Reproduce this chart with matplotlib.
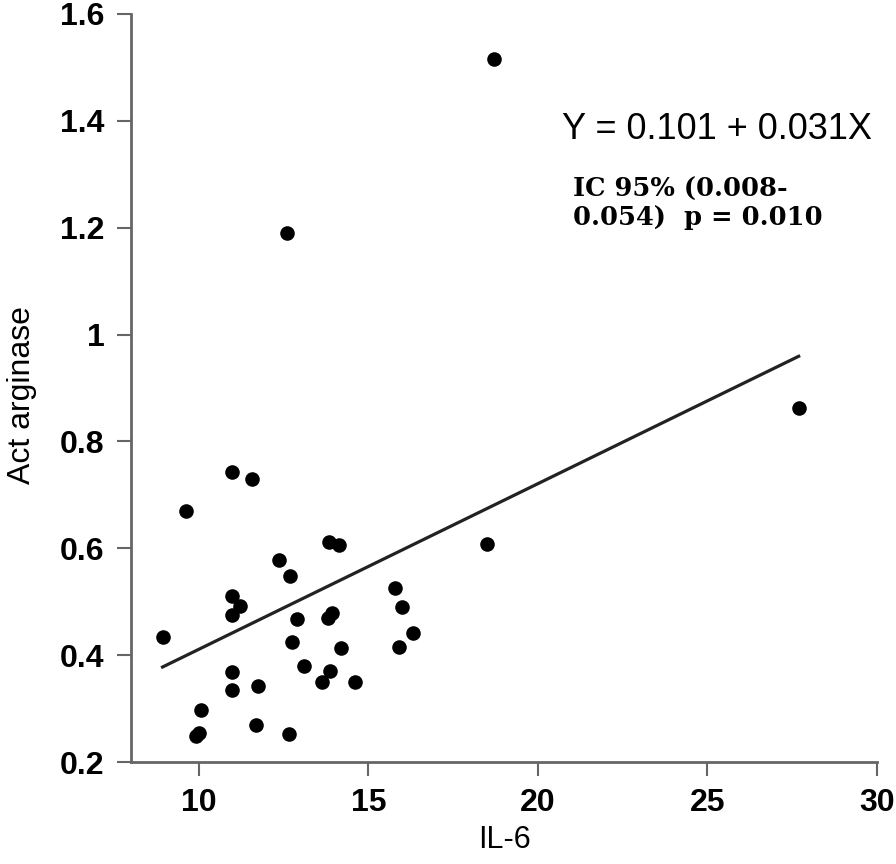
import numpy as np
import matplotlib
matplotlib.use('Agg')
import matplotlib.pyplot as plt

plt.rcParams['font.family'] = ['Liberation Sans', 'DejaVu Sans']

# IL-6 vs arginase activity
il6 = [8.93, 9.62, 9.93, 10.01, 10.05, 10.97, 10.97, 10.97, 10.99, 11.21,
       10.97, 11.58, 11.68, 11.75, 12.36, 12.61, 12.65, 12.70, 12.75, 12.91,
       13.10, 13.62, 13.81, 13.84, 13.88, 13.94, 14.14, 14.18, 14.60, 15.78,
       15.89, 16.00, 16.32, 18.51, 18.70, 27.69]
arg = [0.434, 0.669, 0.249, 0.254, 0.297, 0.368, 0.334, 0.511, 0.475, 0.492,
       0.742, 0.729, 0.269, 0.342, 0.579, 1.190, 0.252, 0.549, 0.425, 0.467,
       0.380, 0.349, 0.469, 0.612, 0.370, 0.479, 0.606, 0.413, 0.349, 0.525,
       0.415, 0.491, 0.441, 0.608, 1.515, 0.863]

intercept = 0.101
slope = 0.031

xticks = [10, 15, 20, 25, 30]
yticks = [0.2, 0.4, 0.6, 0.8, 1.0, 1.2, 1.4, 1.6]
ylabels = ['0.2', '0.4', '0.6', '0.8', '1', '1.2', '1.4', '1.6']

fig = plt.figure(figsize=(8.96, 8.64), dpi=100)
ax = fig.add_axes([0.1462, 0.118, 0.8326, 0.8658])

ax.scatter(il6, arg, s=110, color='black', zorder=3, linewidths=0)
xl = np.array([min(il6), max(il6)])
ax.plot(xl, intercept + slope*xl, color='#222222', lw=2.3)

ax.set_xlim(8, 30)
ax.set_ylim(0.2, 1.6)
ax.set_xticks(xticks)
ax.set_yticks(yticks)
ax.set_yticklabels(ylabels)

for s in ['top', 'right']:
	ax.spines[s].set_visible(False)
for s in ['left', 'bottom']:
	ax.spines[s].set_color('#666666')
	ax.spines[s].set_linewidth(2)
ax.tick_params(direction='out', length=10, width=1.5, color='#666666',
               labelsize=23)
ax.tick_params(axis='y', pad=9)
ax.tick_params(axis='x', pad=9)
for lab in ax.get_xticklabels() + ax.get_yticklabels():
	lab.set_fontweight('bold')

ax.set_xlabel('IL-6', fontsize=22)
ax.set_ylabel('Act arginase', fontsize=23)
ax.xaxis.set_label_coords(0.5, -0.084)
ax.yaxis.set_label_coords(-0.126, 0.49)

ax.text(0.578, 0.846, 'Y = 0.101 + 0.031X', transform=ax.transAxes,
        fontsize=26, ha='left', va='center')
ax.text(0.5925, 0.747, 'IC 95% (0.008-\n0.054)  p = 0.010', transform=ax.transAxes,
        fontsize=18.5, fontweight='bold', family='DejaVu Serif',
        ha='left', va='center', linespacing=1.15)

fig.savefig('out.png', dpi=100)
